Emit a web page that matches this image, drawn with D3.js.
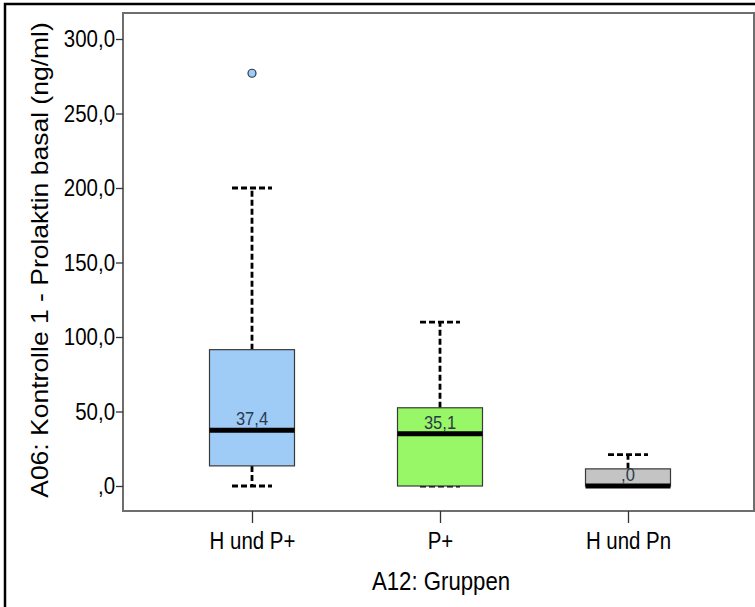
<!DOCTYPE html>
<html><head><meta charset="utf-8">
<script src="https://cdn.jsdelivr.net/npm/d3@7"></script>
<style>body{margin:0;background:#fff}svg{display:block;font-family:"Liberation Sans",Arial,sans-serif}</style>
</head><body><svg id="c" width="755" height="607"></svg>
<script>
const categories = ["H und P+", "P+", "H und Pn"];
const whiskerLow = [0, 0, 0];
const q1 = [13.5, 0, 0];
const medians = [37.4, 35.1, 0];
const q3 = [91.5, 52.5, 11.5];
const whiskerHigh = [200, 110, 21];
const medianLabels = ["37,4", "35,1", ",0"];
const outliers = [{group: "H und P+", value: 277}];
const fills = ["#9fcbf7", "#98f766", "#c4c4c4"];
const yTicks = [0, 50, 100, 150, 200, 250, 300];

const SX = 0.87; // horizontal squeeze of the lettering
const svg = d3.select("#c");
const frame = {left: 123, top: 13, right: 754, bottom: 511};
const y = d3.scaleLinear().domain([0, 300]).range([486, 39]);
const x = d3.scalePoint().domain(categories).range([252, 628]);
const boxW = 85;
const fmt = v => v === 0 ? ",0" : d3.format(".1f")(v).replace(".", ",");

function label(sel, px, py, txt, size, anchor, fill) {
  return sel.append("text")
    .attr("transform", `translate(${px},${py}) scale(${SX},1)`)
    .attr("text-anchor", anchor).attr("font-size", size)
    .attr("fill", fill || "#000").text(txt);
}

// outer border
svg.append("rect").attr("x", 5).attr("y", 4).attr("width", 800).attr("height", 700)
  .attr("fill", "none").attr("stroke", "#000").attr("stroke-width", 2.5);

// plot frame
svg.append("rect").attr("x", frame.left).attr("y", frame.top)
  .attr("width", frame.right - frame.left).attr("height", frame.bottom - frame.top)
  .attr("fill", "#fff").attr("stroke", "#6e6e6e").attr("stroke-width", 2);

// y axis
const yAxis = svg.append("g").attr("transform", `translate(${frame.left},0)`)
  .call(d3.axisLeft(y).tickValues(yTicks).tickFormat(fmt).tickSize(7).tickPadding(1));
yAxis.select(".domain").remove();
yAxis.selectAll(".tick line").attr("stroke", "#333").attr("stroke-width", 1.3);
yAxis.selectAll(".tick text").attr("font-size", 23.5).attr("fill", "#000")
  .attr("font-family", "Liberation Sans, Arial, sans-serif")
  .attr("x", -8 / SX).attr("transform", `scale(${SX},1)`);

// x axis
const xAxis = svg.append("g").attr("transform", `translate(0,${frame.bottom})`)
  .call(d3.axisBottom(x).tickSize(12).tickPadding(10));
xAxis.select(".domain").remove();
xAxis.selectAll(".tick line").attr("stroke", "#333").attr("stroke-width", 1.3);
xAxis.selectAll(".tick text").attr("font-size", 23.5).attr("fill", "#000")
  .attr("font-family", "Liberation Sans, Arial, sans-serif")
  .attr("dy", null).attr("y", 38).attr("transform", `scale(${SX},1)`);

// axis titles
label(svg, 441, 590, "A12: Gruppen", 25.5, "middle");
svg.append("text").attr("transform", `translate(48,260) rotate(-90) scale(1,${SX})`)
  .attr("text-anchor", "middle").attr("font-size", 26.5)
  .text("A06: Kontrolle 1 - Prolaktin basal (ng/ml)");

// boxes
const g = svg.append("g");
categories.forEach((c, i) => {
  const cx = x(c);
  const dash = {stroke: "#000", w: 2.8, d: "6,3"};
  g.append("line").attr("x1", cx).attr("x2", cx).attr("y1", y(q3[i])).attr("y2", y(whiskerHigh[i]))
    .attr("stroke", dash.stroke).attr("stroke-width", dash.w).attr("stroke-dasharray", dash.d);
  g.append("line").attr("x1", cx).attr("x2", cx).attr("y1", y(q1[i])).attr("y2", y(whiskerLow[i]))
    .attr("stroke", dash.stroke).attr("stroke-width", dash.w).attr("stroke-dasharray", dash.d);
  [whiskerHigh[i], whiskerLow[i]].forEach(v => {
    g.append("line").attr("x1", cx - 20).attr("x2", cx + 20).attr("y1", y(v)).attr("y2", y(v))
      .attr("stroke", dash.stroke).attr("stroke-width", dash.w).attr("stroke-dasharray", dash.d);
  });
  g.append("rect").attr("x", cx - boxW / 2).attr("y", y(q3[i]))
    .attr("width", boxW).attr("height", y(q1[i]) - y(q3[i]))
    .attr("fill", fills[i]).attr("stroke", "#3a3a3a").attr("stroke-width", 1.2);
  g.append("line").attr("x1", cx - boxW / 2).attr("x2", cx + boxW / 2)
    .attr("y1", y(medians[i])).attr("y2", y(medians[i]))
    .attr("stroke", "#000").attr("stroke-width", 5);
  label(g, cx, y(medians[i]) - 5, medianLabels[i], 19, "middle", "#2b3a4a");
});

// outliers
g.selectAll("circle.out").data(outliers).join("circle").attr("class", "out")
  .attr("cx", d => x(d.group)).attr("cy", d => y(d.value)).attr("r", 4)
  .attr("fill", "#9fcbf7").attr("stroke", "#2b3a4a").attr("stroke-width", 1.2);
</script></body></html>
